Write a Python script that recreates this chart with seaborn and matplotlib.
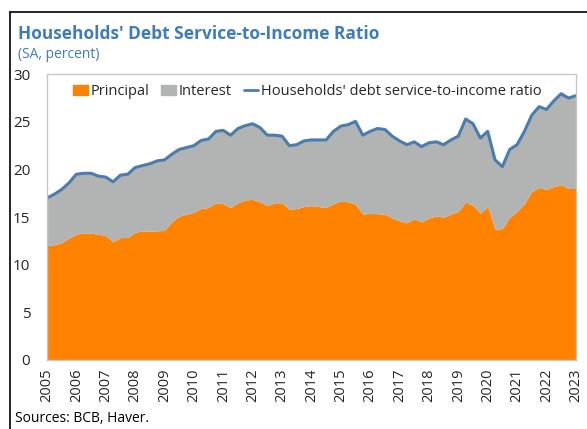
import numpy as np
import pandas as pd
import matplotlib
matplotlib.use("Agg")
import matplotlib.pyplot as plt
import seaborn as sns
from matplotlib.lines import Line2D
from matplotlib.patches import Patch

# Квартальные данные
years = [2005 + 0.25 * i for i in range(73)]

principal = [12.0, 12.1, 12.3, 12.8, 13.2, 13.35, 13.3, 13.2, 13.05, 12.4, 12.85, 12.85,
             13.4, 13.55, 13.5, 13.55, 13.6, 14.5, 15.1, 15.3, 15.5, 15.9, 16.0, 16.5,
             16.4, 16.0, 16.5, 16.8, 16.85, 16.6, 16.2, 16.5, 16.5, 15.8, 15.9, 16.1,
             16.2, 16.1, 16.0, 16.4, 16.7, 16.6, 16.35, 15.3, 15.4, 15.35, 15.3, 14.9,
             14.6, 14.4, 14.8, 14.5, 14.9, 15.1, 15.0, 15.3, 15.6, 16.6, 16.2, 15.4,
             16.1, 13.7, 13.8, 15.0, 15.6, 16.4, 17.7, 18.1, 17.9, 18.2, 18.4, 18.0, 18.0]

total = [17.0, 17.4, 17.9, 18.6, 19.5, 19.6, 19.6, 19.3, 19.2, 18.7, 19.4, 19.5,
         20.2, 20.4, 20.6, 20.9, 21.0, 21.6, 22.1, 22.3, 22.5, 23.05, 23.2, 24.0,
         24.1, 23.6, 24.3, 24.6, 24.8, 24.4, 23.6, 23.6, 23.5, 22.5, 22.6, 23.0,
         23.1, 23.1, 23.1, 24.0, 24.55, 24.7, 25.05, 23.6, 24.0, 24.3, 24.2, 23.5,
         23.0, 22.6, 22.9, 22.4, 22.8, 22.9, 22.6, 23.1, 23.5, 25.3, 24.8, 23.3,
         24.0, 21.0, 20.3, 22.1, 22.6, 24.0, 25.7, 26.6, 26.3, 27.2, 27.95, 27.5, 27.75]

year_ticks = list(range(2005, 2024))
y_ticks = [0, 5, 10, 15, 20, 25, 30]

df = pd.DataFrame({"year": years, "principal": principal, "total": total})
df["interest"] = df["total"] - df["principal"]

ORANGE = "#FF8200"
GRAY = "#B2B4B3"
BLUE = "#4A7DAD"
TITLE_BLUE = "#3E7DB8"

sns.set_style("white")
plt.rcParams["font.family"] = ["Open Sans", "DejaVu Sans"]

fig = plt.figure(figsize=(5.87, 4.29), dpi=100)
ax = fig.add_axes([0.080, 0.161, 0.901, 0.666])

ax.stackplot(df["year"], df["principal"], df["interest"],
             colors=[ORANGE, GRAY], linewidth=0)
sns.lineplot(data=df, x="year", y="total", ax=ax, color=BLUE, linewidth=2.2, legend=False)

ax.set_xlim(2005, 2023)
ax.set_ylim(0, 30)
ax.set_xticks(year_ticks)
ax.set_xticklabels([str(y) for y in year_ticks], rotation=90, fontsize=10.5)
ax.set_yticks(y_ticks)
ax.set_yticklabels([str(v) for v in y_ticks], fontsize=11)
ax.set_xlabel("")
ax.set_ylabel("")
ax.tick_params(axis="x", direction="in", length=4, color="#BFBFBF", pad=6)
ax.tick_params(axis="y", direction="in", length=4, color="#BFBFBF", pad=12)
for s in ax.spines.values():
    s.set_color("#C8C8C8")
    s.set_linewidth(1.0)

handles = [Patch(color=ORANGE), Patch(color=GRAY), Line2D([0], [0], color=BLUE, lw=2)]
labels = ["Principal", "Interest", "Households' debt service-to-income ratio"]
ax.legend(handles, labels, loc="upper left", bbox_to_anchor=(0.025, 1.01), ncol=3,
          frameon=False, fontsize=10.5, handlelength=1.0, handletextpad=0.2,
          columnspacing=0.8)

fig.text(18 / 587, 1 - 34 / 429, "Households' Debt Service-to-Income Ratio",
         fontsize=12.5, fontweight="bold", color=TITLE_BLUE, va="center", ha="left")
fig.text(18 / 587, 1 - 54 / 429, "(SA, percent)", fontsize=10,
         color=TITLE_BLUE, va="center", ha="left")
fig.text(15 / 587, 1 - 418 / 429, "Sources: BCB, Haver.", fontsize=10,
         color="black", va="center", ha="left")

# рамка вокруг всей картинки (видны левая и верхняя стороны)
fig.add_artist(Line2D([10 / 587, 10 / 587], [0, 1 - 12 / 429], color="black", lw=1.2,
                      transform=fig.transFigure))
fig.add_artist(Line2D([10 / 587, 1], [1 - 12 / 429, 1 - 12 / 429], color="black", lw=1.2,
                      transform=fig.transFigure))

fig.savefig("out.png", dpi=100)
